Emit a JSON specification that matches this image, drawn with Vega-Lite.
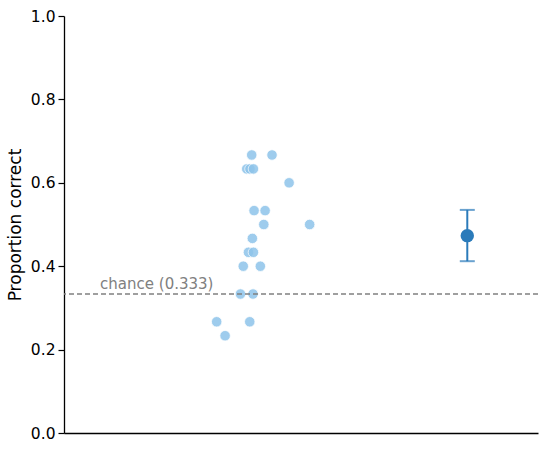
{
  "$schema": "https://vega.github.io/schema/vega-lite/v6.json",
  "width": 474,
  "height": 417,
  "autosize": "none",
  "padding": {"left": 64, "top": 16, "right": 12, "bottom": 17},
  "background": "white",
  "datasets": {
    "scores": [
      {"x": 0.003, "score": 0.6667},
      {"x": 0.097, "score": 0.6667},
      {"x": -0.020, "score": 0.6333},
      {"x": -0.005, "score": 0.6333},
      {"x": 0.011, "score": 0.6333},
      {"x": 0.176, "score": 0.6},
      {"x": 0.014, "score": 0.5333},
      {"x": 0.065, "score": 0.5333},
      {"x": 0.059, "score": 0.5},
      {"x": 0.271, "score": 0.5},
      {"x": 0.006, "score": 0.4667},
      {"x": -0.012, "score": 0.4333},
      {"x": 0.011, "score": 0.4333},
      {"x": -0.036, "score": 0.4},
      {"x": 0.043, "score": 0.4},
      {"x": -0.049, "score": 0.3333},
      {"x": 0.009, "score": 0.3333},
      {"x": -0.159, "score": 0.2667},
      {"x": -0.006, "score": 0.2667},
      {"x": -0.120, "score": 0.2333}
    ],
    "summary": [
      {"x": 1, "mean": 0.4733, "lo": 0.412, "hi": 0.535}
    ]
  },
  "layer": [
    {
      "data": {"name": "scores"},
      "mark": {"type": "circle", "size": 110, "color": "#8ec4ea", "opacity": 0.85, "stroke": "white", "strokeWidth": 0.8},
      "encoding": {
        "x": {
          "field": "x",
          "type": "quantitative",
          "scale": {"domain": [-0.865, 1.327], "nice": false, "zero": false},
          "axis": {"labels": false, "ticks": false, "title": null, "grid": false, "domainColor": "#000000", "domainWidth": 1.3}
        },
        "y": {
          "field": "score",
          "type": "quantitative",
          "scale": {"domain": [0, 1], "nice": false},
          "axis": {
            "title": "Proportion correct",
            "values": [0, 0.2, 0.4, 0.6, 0.8, 1.0],
            "format": ".1f",
            "grid": false,
            "domainColor": "#000000",
            "domainWidth": 1.3,
            "tickColor": "#000000",
            "tickSize": 6,
            "tickWidth": 1.2,
            "labelPadding": 3,
            "titlePadding": 6
          }
        }
      }
    },
    {
      "data": {"values": [{}]},
      "mark": {"type": "rule", "color": "#808080", "strokeDash": [5, 3], "strokeWidth": 1.6},
      "encoding": {"y": {"datum": 0.3333, "type": "quantitative"}}
    },
    {
      "data": {"values": [{}]},
      "mark": {"type": "text", "align": "left", "baseline": "alphabetic", "dy": -5, "color": "#808080", "fontSize": 15, "font": "DejaVu Sans", "text": "chance (0.333)"},
      "encoding": {"x": {"datum": -0.698, "type": "quantitative"}, "y": {"datum": 0.3333, "type": "quantitative"}}
    },
    {
      "data": {"name": "summary"},
      "mark": {"type": "rule", "color": "#2b7bba", "strokeWidth": 2},
      "encoding": {"x": {"field": "x", "type": "quantitative"}, "y": {"field": "lo", "type": "quantitative"}, "y2": {"field": "hi"}}
    },
    {
      "data": {"name": "summary"},
      "mark": {"type": "tick", "orient": "horizontal", "color": "#2b7bba", "size": 15, "thickness": 2},
      "encoding": {"x": {"field": "x", "type": "quantitative"}, "y": {"field": "lo", "type": "quantitative"}}
    },
    {
      "data": {"name": "summary"},
      "mark": {"type": "tick", "orient": "horizontal", "color": "#2b7bba", "size": 15, "thickness": 2},
      "encoding": {"x": {"field": "x", "type": "quantitative"}, "y": {"field": "hi", "type": "quantitative"}}
    },
    {
      "data": {"name": "summary"},
      "mark": {"type": "circle", "size": 180, "color": "#2b7bba", "opacity": 1},
      "encoding": {"x": {"field": "x", "type": "quantitative"}, "y": {"field": "mean", "type": "quantitative"}}
    }
  ],
  "config": {
    "view": {"stroke": null},
    "axis": {
      "labelFont": "DejaVu Sans",
      "titleFont": "DejaVu Sans",
      "labelFontSize": 15.5,
      "titleFontSize": 17,
      "titleFontWeight": "normal",
      "labelColor": "#000000",
      "titleColor": "#000000"
    }
  }
}
